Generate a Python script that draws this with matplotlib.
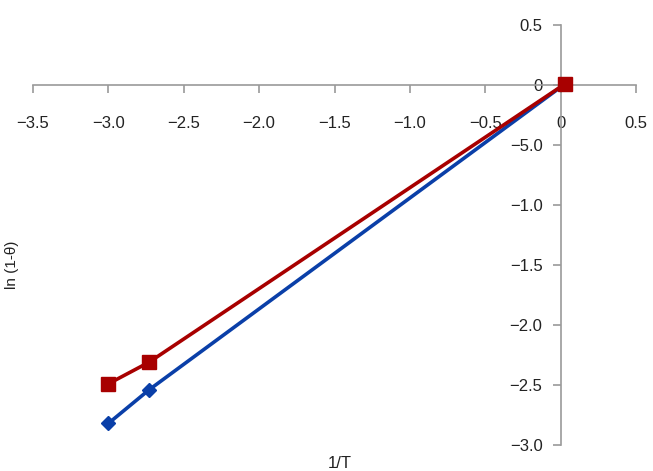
import matplotlib.pyplot as plt

plt.rcParams['font.family'] = ['Liberation Sans', 'DejaVu Sans']

# data
x_blue = [-3.0, -2.73, 0.03]
y_blue = [-2.82, -2.54, 0.01]
x_red = [-3.0, -2.73, 0.03]
y_red = [-2.49, -2.31, 0.01]

xticks = [-3.5, -3.0, -2.5, -2.0, -1.5, -1.0, -0.5, 0.0, 0.5]
xticklabels = ['\u22123.5', '\u22123.0', '\u22122.5', '\u22122.0', '\u22121.5',
               '\u22121.0', '\u22120.5', '0', '0.5']
yticks = [0.5, 0.0, -0.5, -1.0, -1.5, -2.0, -2.5, -3.0]
# the original figure prints "-5.0" at -0.5
yticklabels = ['0.5', '0', '\u22125.0', '\u22121.0', '\u22121.5', '\u22122.0',
               '\u22122.5', '\u22123.0']

fig = plt.figure(figsize=(6.53, 4.71), dpi=100)
ax = fig.add_axes([33 / 653, 1 - 445 / 471, (636 - 33) / 653, (445 - 25) / 471])

ax.plot(x_blue, y_blue, color='#0A3FA8', lw=2.6, marker='D', ms=7.5,
        solid_capstyle='round', zorder=3)
ax.plot(x_red, y_red, color='#A80000', lw=2.6, marker='s', ms=10.5, zorder=4)

ax.set_xlim(-3.5, 0.5)
ax.set_ylim(-3.0, 0.5)

for s in ['top', 'right']:
    ax.spines[s].set_visible(False)
ax.spines['left'].set_position(('data', 0))
ax.spines['bottom'].set_position(('data', 0))
for s in ['left', 'bottom']:
    ax.spines[s].set_color('#9a9a9a')
    ax.spines[s].set_linewidth(1.2)

ax.set_xticks(xticks)
ax.set_xticklabels(xticklabels)
ax.set_yticks(yticks)
ax.set_yticklabels(yticklabels)
ax.tick_params(axis='x', direction='out', length=6, width=1.2, color='#9a9a9a',
               pad=16, labelsize=12, labelcolor='#222222')
ax.tick_params(axis='y', direction='out', length=6, width=1.2, color='#9a9a9a',
               pad=7, labelsize=12, labelcolor='#222222')

fig.text(12 / 653, 1 - 265 / 471, 'ln (1-\u03b8)', rotation=90, ha='center',
         va='center', fontsize=11, color='#222222')
fig.text(340 / 653, 1 - 463 / 471, '1/T', ha='center', va='center',
         fontsize=12, color='#222222')

fig.savefig('out.png', dpi=100)
